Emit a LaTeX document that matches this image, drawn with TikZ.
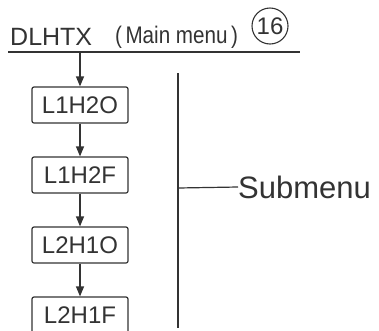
\documentclass[tikz,border=0pt]{standalone}
\usepackage{fontspec}
\setmainfont{Liberation Sans}
\usetikzlibrary{arrows.meta}
\definecolor{ink}{HTML}{333333}
\begin{document}
\begin{tikzpicture}[x=1pt,y=1pt,
  line/.style={draw=ink,line width=1.2pt},
  arr/.style={line,-{Triangle[length=10pt,width=8pt]}},
  menubox/.style={line,rounded corners=2pt,minimum width=96pt,minimum height=36pt,inner sep=0pt,
    font=\fontsize{24}{24}\selectfont,text=ink},
  title/.style={inner sep=0pt,anchor=base west,text=ink}]
\useasboundingbox (0,0) rectangle (379,-330);
\fill[white] (0,0) rectangle (379,-330);
% title
\node[title,font=\fontsize{25}{25}\selectfont] (dl) at (10,-45) {DLHTX};
\node[title,font=\fontsize{24}{24}\selectfont] (mm) at (115,-43) {\scalebox{0.86}[1]{(\,Main menu\,)}};
\node[circle,draw=ink,line width=1.1pt,minimum size=36pt,inner sep=0pt,text=ink,font=\fontsize{24}{24}\selectfont] (c16) at (270,-26) {16};
\coordinate (ul1) at (8,-52);
\coordinate (ul2) at (300,-52);
\draw[line] (ul1) -- (ul2);
% boxes
\node[menubox] (b1) at (80,-105) {L1H2O};
\node[menubox] (b2) at (80,-175) {L1H2F};
\node[menubox] (b3) at (80,-245) {L2H1O};
\node[menubox] (b4) at (80,-315) {L2H1F};
\coordinate (a0) at (80,-52);
\draw[arr] (a0) -- (b1.north);
\draw[arr] (b1) -- (b2);
\draw[arr] (b2) -- (b3);
\draw[arr] (b3) -- (b4);
% bracket
\coordinate (vt) at (178,-73);
\coordinate (vb) at (178,-328);
\coordinate (vm) at (178,-188);
\draw[line] (vt) -- (vb);
\node[anchor=west,inner sep=0pt,text=ink,font=\fontsize{31}{31}\selectfont] (sub) at (238,-187) {Submenu};
\draw[line] (vm) -- (sub.west);
\end{tikzpicture}
\end{document}
